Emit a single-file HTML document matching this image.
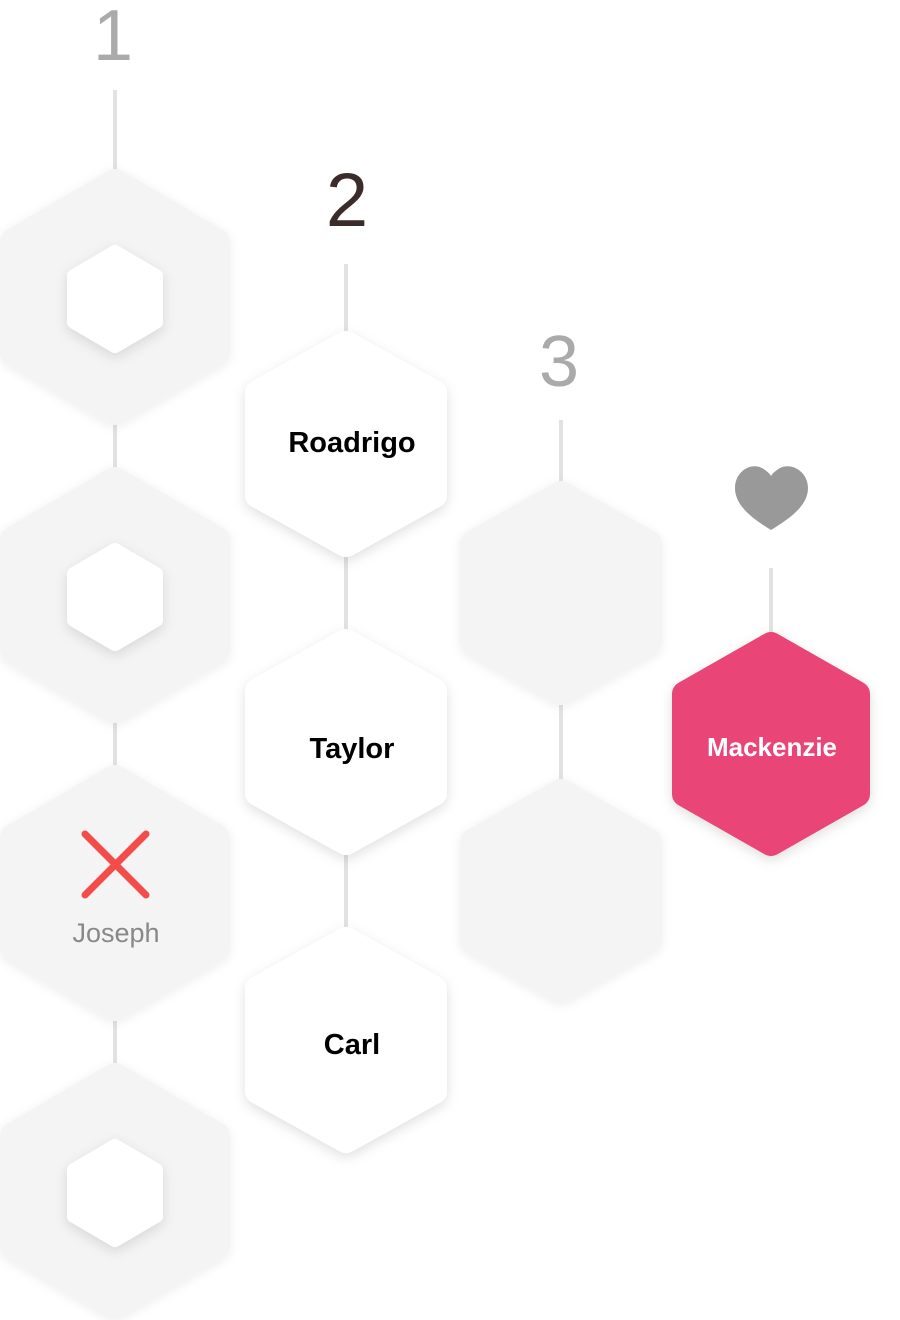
<!DOCTYPE html>
<html><head><meta charset="utf-8"><style>
html,body{margin:0;padding:0;background:#fff;width:900px;height:1320px;overflow:hidden}
svg text{font-family:"Liberation Sans",sans-serif}
</style></head><body>
<svg width="900" height="1320" viewBox="0 0 900 1320" xmlns="http://www.w3.org/2000/svg">
<defs>
<filter id="sh" x="-30%" y="-30%" width="160%" height="160%"><feDropShadow dx="0" dy="4" stdDeviation="6" flood-color="#000" flood-opacity="0.12"/></filter>
<filter id="sh2" x="-30%" y="-30%" width="160%" height="160%"><feDropShadow dx="0" dy="2" stdDeviation="5" flood-color="#000" flood-opacity="0.07"/></filter>
</defs>
<g stroke="#e2e2e2" stroke-width="4">
<line x1="115" y1="90" x2="115" y2="170"/><line x1="115" y1="424" x2="115" y2="468"/><line x1="115" y1="722" x2="115" y2="766"/><line x1="115" y1="1020" x2="115" y2="1064"/>
<line x1="346" y1="264" x2="346" y2="332"/><line x1="346" y1="556" x2="346" y2="630"/><line x1="346" y1="854" x2="346" y2="928"/>
<line x1="561" y1="420" x2="561" y2="482"/><line x1="561" y1="704" x2="561" y2="780"/>
<line x1="771" y1="568" x2="771" y2="634"/>
</g>
<g stroke-linejoin="round" stroke-width="28" fill="#f4f4f4" stroke="#f4f4f4" filter="url(#sh2)">
<polygon points="115,183 216,242 216,352 115,411 14,352 14,242"/>
<polygon points="115,481 216,540 216,650 115,709 14,650 14,540"/>
<polygon points="115,779 216,838 216,948 115,1007 14,948 14,838"/>
<polygon points="115,1077 216,1136 216,1246 115,1305 14,1246 14,1136"/>
<polygon points="561,495 648,544 648,642 561,691 474,642 474,544"/>
<polygon points="561,793 648,842 648,940 561,989 474,940 474,842"/>
</g>
<g stroke-linejoin="round" stroke-width="26" fill="#fff" stroke="#fff" filter="url(#sh)">
<polygon points="346,344 434,393 434,495 346,544 258,495 258,393"/>
<polygon points="346,642 434,691 434,793 346,842 258,793 258,691"/>
<polygon points="346,940 434,989 434,1091 346,1140 258,1091 258,989"/>
</g>
<g stroke-linejoin="round" stroke-width="14" fill="#fff" stroke="#fff" filter="url(#sh)">
<polygon points="115,252 156,276 156,322 115,346 74,322 74,276"/>
<polygon points="115,550 156,574 156,620 115,644 74,620 74,574"/>
<polygon points="115,1146 156,1170 156,1216 115,1240 74,1216 74,1170"/>
</g>
<polygon points="771,645 857,694 857,794 771,843 685,794 685,694" fill="#e94577" stroke="#e94577" stroke-width="26" stroke-linejoin="round" filter="url(#sh)"/>
<text x="113" y="60" font-size="72" fill="#aaa" text-anchor="middle">1</text>
<text x="347" y="226" font-size="76" fill="#3b2b2b" text-anchor="middle">2</text>
<text x="559" y="386" font-size="72" fill="#aaa" text-anchor="middle">3</text>
<path d="M771,530 C755,520 735,507 735,488 C735,472 750,462 762,468 C767,471 770,474 771,476 C772,474 775,471 780,468 C792,462 808,472 808,488 C808,507 787,520 771,530 Z" fill="#999"/>
<g font-weight="bold" font-size="29" fill="#000" text-anchor="middle">
<text x="352" y="452">Roadrigo</text>
<text x="352" y="758">Taylor</text>
<text x="352" y="1054">Carl</text>
</g>
<text x="772" y="756" font-weight="bold" font-size="26" fill="#fff" text-anchor="middle">Mackenzie</text>
<text x="116" y="942" font-size="27" fill="#888" text-anchor="middle">Joseph</text>
<g stroke="#f44b4b" stroke-width="7" stroke-linecap="round"><line x1="85" y1="834" x2="146" y2="895"/><line x1="146" y1="834" x2="85" y2="895"/></g>
</svg>
</body></html>
